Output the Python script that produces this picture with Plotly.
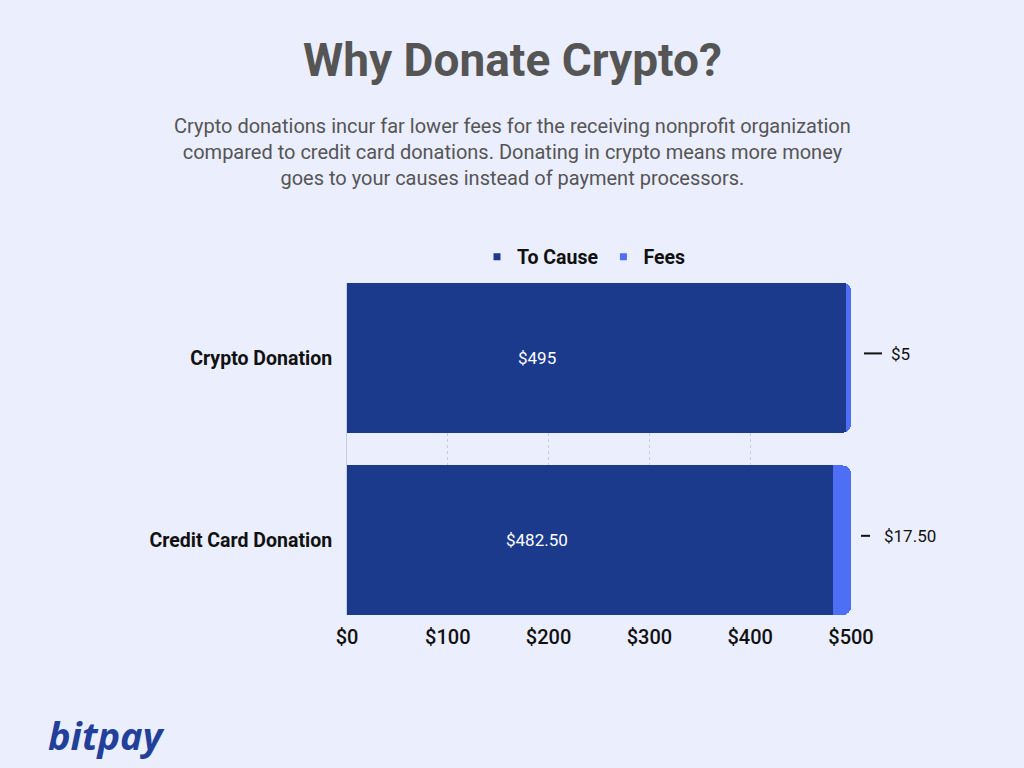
import plotly.graph_objects as go

categories = ["Crypto Donation", "Credit Card Donation"]
to_cause = [495, 482.50]
fees = [5, 17.50]
cause_labels = ["$495", "$482.50"]
fee_labels = ["$5", "$17.50"]
tick_vals = [0, 100, 200, 300, 400, 500]
tick_text = ["$0", "$100", "$200", "$300", "$400", "$500"]

BG = "#EBEEFD"
DARK = "#1B3A8C"
LIGHT = "#4F6EF6"

# plot area in pixels
PL, PR, PT, PB = 347, 851, 283, 615


def px(xpix):
    return (xpix - PL) / (PR - PL)


def py(ypix):
    return (PB - ypix) / (PB - PT)


fig = go.Figure()
fig.add_trace(go.Bar(y=categories, x=to_cause, orientation="h", marker=dict(color=DARK, line=dict(width=0)),
                     name="To Cause", showlegend=False, hoverinfo="skip", width=0.82))
fig.add_trace(go.Bar(y=categories, x=fees, orientation="h", marker=dict(color=LIGHT, line=dict(width=0)),
                     name="Fees", showlegend=False, hoverinfo="skip", width=0.82))
# legend proxies with small square markers
fig.add_trace(go.Scatter(x=[None], y=[None], mode="markers", name="To Cause",
                         marker=dict(symbol="square", size=7, color=DARK)))
fig.add_trace(go.Scatter(x=[None], y=[None], mode="markers", name="Fees",
                         marker=dict(symbol="square", size=7, color=LIGHT)))

annotations = []
for cat, lab in zip(categories, cause_labels):
    annotations.append(dict(x=188, y=cat, xref="x", yref="y", text=lab, showarrow=False,
                            font=dict(family="Roboto", size=17, color="white")))

# leader dashes + fee labels
shapes = []
lead_start = [864, 861]
lead_end = [882, 870]
text_x = [889, 882]
for cat, lab, x0, x1, tx in zip(categories, fee_labels, lead_start, lead_end, text_x):
    yi = len(categories) - 1 - categories.index(cat)
    shapes.append(dict(type="line", xref="paper", yref="y", x0=px(x0), x1=px(x1),
                       y0=yi + 0.024, y1=yi + 0.024, line=dict(color="#111111", width=2)))
    annotations.append(dict(x=px(tx), y=cat, xref="paper", yref="y", xanchor="left", yshift=4,
                            text=lab, showarrow=False,
                            font=dict(family="Roboto", size=17, color="#111111")))

annotations += [
    dict(x=px(512), y=py(60), xref="paper", yref="paper", xanchor="center", yanchor="middle",
         text="<b>Why Donate Crypto?</b>", showarrow=False,
         font=dict(family="Roboto", size=46, color="#555555")),
    dict(x=px(512), y=py(152), xref="paper", yref="paper", xanchor="center", yanchor="middle",
         text="Crypto donations incur far lower fees for the receiving nonprofit organization<br>"
              "compared to credit card donations. Donating in crypto means more money<br>"
              "goes to your causes instead of payment processors.",
         showarrow=False, align="center",
         font=dict(family="Roboto", size=20, color="#555555")),
    dict(x=px(46), y=py(735), xref="paper", yref="paper", xanchor="left", yanchor="middle",
         text="<b><i>bitpay</i></b>", showarrow=False,
         font=dict(family="Open Sans", size=38, color="#22409A")),
]

fig.update_layout(
    barmode="stack",
    barcornerradius=8,
    width=1024, height=768,
    paper_bgcolor=BG, plot_bgcolor=BG,
    margin=dict(l=PL, r=1024 - PR, t=PT, b=768 - PB, autoexpand=False),
    font=dict(family="Roboto", color="#111111"),
    legend=dict(orientation="h", x=584 / 1024, xref="container", xanchor="center",
                y=1 - 257 / 768, yref="container", yanchor="middle", traceorder="normal",
                font=dict(family="Roboto", size=19.5, color="#111111", weight="bold"),
                itemwidth=30, bgcolor="rgba(0,0,0,0)", tracegroupgap=0),
    annotations=annotations,
    shapes=shapes,
    showlegend=True,
)
fig.update_xaxes(range=[0, 500], tickvals=tick_vals, ticktext=tick_text,
                 tickfont=dict(family="Roboto", size=20, color="#111111", weight=500),
                 showgrid=True, gridcolor="#C9CEDC", griddash="dot", gridwidth=1,
                 zeroline=False, showline=False, ticks="", ticklabelstandoff=8, fixedrange=True)
fig.update_yaxes(categoryorder="array", categoryarray=categories[::-1], range=[-0.41, 1.41],
                 tickfont=dict(family="Roboto", size=19.5, color="#111111", weight="bold"),
                 showline=True, linecolor="#C9CEDC", linewidth=1, showgrid=False,
                 ticks="", ticklabelstandoff=10, fixedrange=True)

fig.write_html("out.html")
